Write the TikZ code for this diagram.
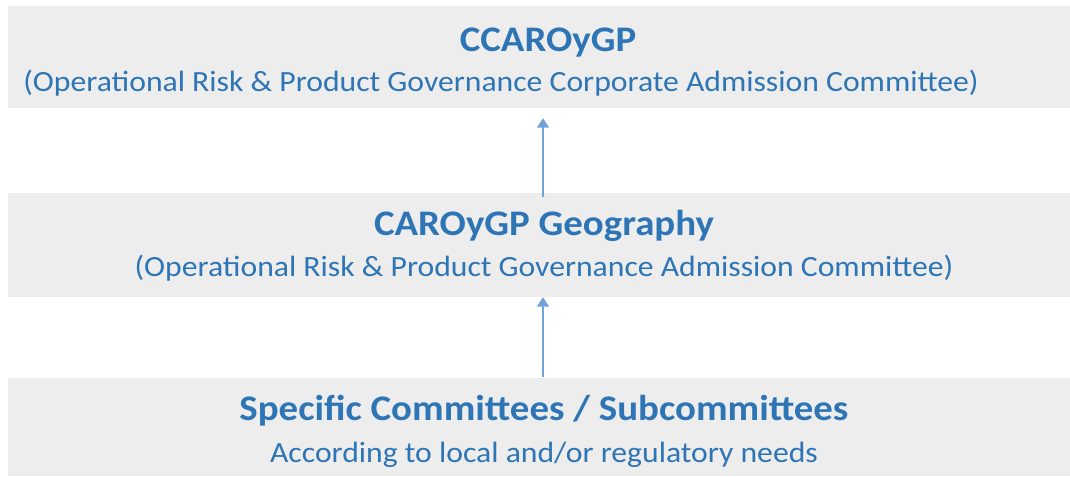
\documentclass[tikz,border=0pt]{standalone}
\usepackage{fontspec}
\setmainfont[FakeStretch=1.08]{Carlito}
\usetikzlibrary{arrows.meta}
\definecolor{bandgray}{HTML}{EDEDED}
\definecolor{titleblue}{HTML}{2E75B6}
\definecolor{arrowblue}{HTML}{6FA3DA}
\tikzset{
  band/.style={rectangle,fill=bandgray,draw=none,inner sep=0pt,minimum width=796.5pt},
  bandtitle/.style={anchor=base,inner sep=0pt,text=titleblue,font=\fontsize{27}{30}\selectfont\bfseries},
  bandsub/.style={anchor=base,inner sep=0pt,text=titleblue,font=\fontsize{22}{25}\selectfont},
  uparr/.style={-{Triangle[length=7pt,width=9pt]},line width=1.1pt,draw=arrowblue}
}
\begin{document}
\begin{tikzpicture}[x=0.75pt,y=-0.75pt]
  \useasboundingbox (0,0) rectangle (1070,476);
  % gray bands
  \node[band,minimum height=76.5pt] (ccaroygp) at (539,57) {};
  \node[band,minimum height=78pt] (geography) at (539,245) {};
  \node[band,minimum height=73.5pt] (specific) at (539,427) {};

  % texts
  \node[bandtitle] (ccaroygptitle) at (548,51) {CCAROyGP};
  \node[bandsub] (ccaroygpsub) at (501,91) {(Operational Risk \& Product Governance Corporate Admission Committee)};
  \node[bandtitle] (geographytitle) at (544,235) {CAROyGP Geography};
  \node[bandsub] (geographysub) at (544,276) {(Operational Risk \& Product Governance Admission Committee)};
  \node[bandtitle] (specifictitle) at (544,420) {Specific Committees / Subcommittees};
  \node[bandsub] (specificsub) at (544,462) {According to local and/or regulatory needs};

  % arrows up
  \draw[uparr,shorten <=-3pt,shorten >=7.5pt] ([xshift=3pt]geography.north) -- ([xshift=3pt]ccaroygp.south);
  \draw[uparr,shorten <=0.75pt] ([xshift=3pt]specific.north) -- ([xshift=3pt]geography.south);
\end{tikzpicture}
\end{document}
